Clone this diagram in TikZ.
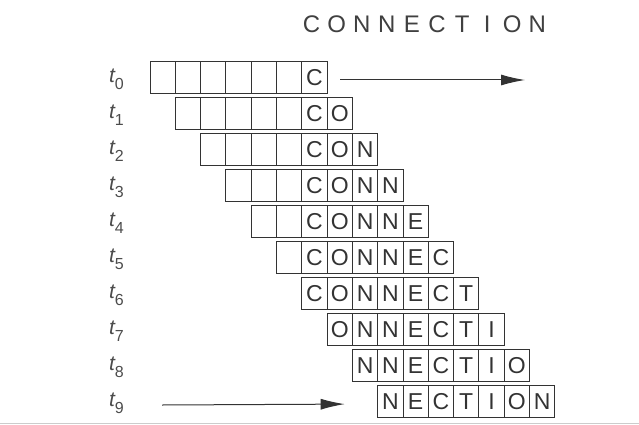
\documentclass[tikz,border=0pt]{standalone}
\usepackage{fontspec}
\setmainfont{Liberation Sans}
\usetikzlibrary{arrows.meta}
\newcommand\wordletter[1]{\ifcase#1 C\or O\or N\or N\or E\or C\or T\or I\or O\or N\fi}
\tikzset{
  cell/.style={draw=black!80, line width=1pt, minimum width=25.3pt, minimum height=32pt,
    inner sep=0pt, outer sep=0pt, font=\fontsize{23}{23}\selectfont, text=black!80},
  tlabel/.style={font=\fontsize{21}{21}\selectfont, text=black!70, inner sep=0pt, anchor=base west},
  titleletter/.style={font=\fontsize{24}{24}\selectfont, text=black!75, inner sep=0pt, anchor=base},
  flow/.style={draw=black!80, line width=1pt, -{Latex[length=24pt,width=11pt]}},
  edge/.style={draw=black!20, line width=1.5pt}
}
\begin{document}
\begin{tikzpicture}[x=1pt,y=-1pt]
\useasboundingbox (0,0) rectangle (639,425);
\fill[white] (0,0) rectangle (639,425);
% title
\foreach \L [count=\j from 0] in {C,O,N,N,E,C,T,I,O,N}{
  \node[titleletter] (h\j) at (311.5+25.1*\j, 33) {\L};
}
% rows
\foreach \k in {0,...,9}{
  \node[tlabel] (t\k) at (109, 83+35.9*\k) {\textit{t}\hspace{-1pt}\raisebox{-7pt}{\fontsize{16}{16}\selectfont\k}};
  \foreach \i in {0,...,6}{
    \pgfmathtruncatemacro\n{\k+\i}
    \pgfmathtruncatemacro\j{\n-6}
    \ifnum\j<0
      \node[cell] (c\k-\n) at (162.65+25.3*\n, 78+35.9*\k) {};
    \else
      \node[cell] (c\k-\n) at (162.65+25.3*\n, 78+35.9*\k) {\wordletter{\j}};
    \fi
  }
}
% arrows
\coordinate (a0s) at ([xshift=13pt,yshift=-2pt]c0-6.east);
\coordinate (a0e) at (525,80);
\draw[flow] (a0s) -- (a0e);
\coordinate (a9s) at (162,405);
\coordinate (a9e) at ([xshift=-33pt,yshift=-3pt]c9-9.west);
\draw[flow] (a9s) -- (a9e);
% bottom edge
\draw[edge] (0,423.5) -- (639,423.5);
\end{tikzpicture}
\end{document}
